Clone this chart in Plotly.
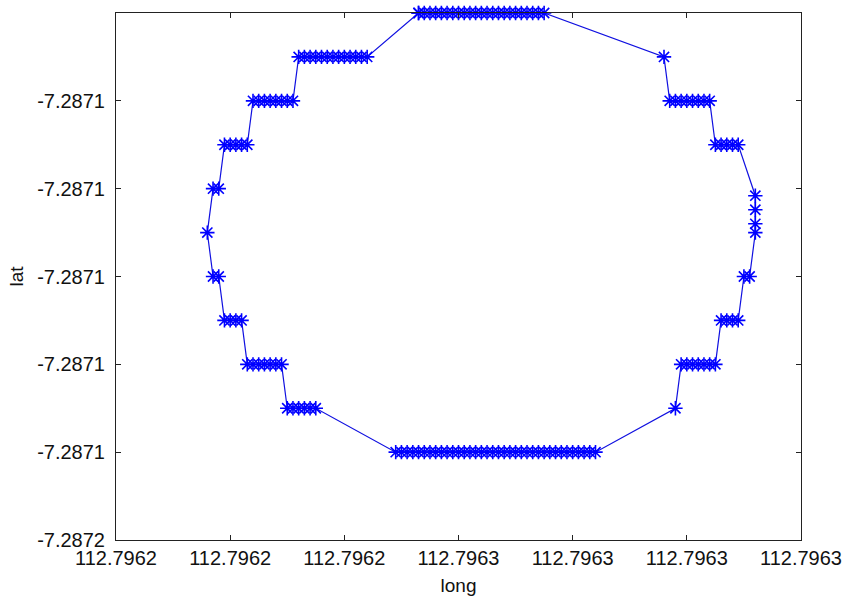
import plotly.graph_objects as go

# Path segments (each a run of GPS fixes at one latitude), in drawing order
seg_lat = [
    [-7.28709] * 23,
    [-7.287095],
    [-7.2871] * 8,
    [-7.287105] * 5,
    [-7.2871108, -7.2871124, -7.287114, -7.287115],
    [-7.28712] * 2,
    [-7.287125] * 4,
    [-7.28713] * 7,
    [-7.287135],
    [-7.28714] * 36,
    [-7.287135] * 6,
    [-7.28713] * 7,
    [-7.287125] * 4,
    [-7.28712] * 2,
    [-7.287115],
    [-7.28711] * 2,
    [-7.287105] * 5,
    [-7.2871] * 8,
    [-7.287095] * 13,
    [-7.28709],
]
seg_long = [
    [112.7962465, 112.796247, 112.7962475, 112.796248, 112.7962485, 112.796249,
     112.7962495, 112.79625, 112.7962505, 112.796251, 112.7962515, 112.796252,
     112.7962525, 112.796253, 112.7962535, 112.796254, 112.7962545, 112.796255,
     112.7962555, 112.796256, 112.7962565, 112.796257, 112.7962575],
    [112.796268],
    [112.7962685, 112.796269, 112.7962695, 112.79627, 112.7962705, 112.796271,
     112.7962715, 112.796272],
    [112.7962725, 112.796273, 112.7962735, 112.796274, 112.7962745],
    [112.796276, 112.796276, 112.796276, 112.796276],
    [112.7962755, 112.796275],
    [112.7962745, 112.796274, 112.7962735, 112.796273],
    [112.7962725, 112.796272, 112.7962715, 112.796271, 112.7962705, 112.79627,
     112.7962695],
    [112.796269],
    [112.796262, 112.7962615, 112.796261, 112.7962605, 112.79626, 112.7962595,
     112.796259, 112.7962585, 112.796258, 112.7962575, 112.796257, 112.7962565,
     112.796256, 112.7962555, 112.796255, 112.7962545, 112.796254, 112.7962535,
     112.796253, 112.7962525, 112.796252, 112.7962515, 112.796251, 112.7962505,
     112.79625, 112.7962495, 112.796249, 112.7962485, 112.796248, 112.7962475,
     112.796247, 112.7962465, 112.796246, 112.7962455, 112.796245, 112.7962445],
    [112.7962375, 112.796237, 112.7962365, 112.796236, 112.7962355, 112.796235],
    [112.7962345, 112.796234, 112.7962335, 112.796233, 112.7962325, 112.796232,
     112.7962315],
    [112.796231, 112.7962305, 112.79623, 112.7962295],
    [112.796229, 112.7962285],
    [112.796228],
    [112.7962285, 112.796229],
    [112.7962295, 112.79623, 112.7962305, 112.796231, 112.7962315],
    [112.796232, 112.7962325, 112.796233, 112.7962335, 112.796234, 112.7962345,
     112.796235, 112.7962355],
    [112.796236, 112.7962365, 112.796237, 112.7962375, 112.796238, 112.7962385,
     112.796239, 112.7962395, 112.79624, 112.7962405, 112.796241, 112.7962415,
     112.796242],
    [112.7962465],
]

x_tickvals = [112.79622, 112.79623, 112.79624, 112.79625, 112.79626, 112.79627, 112.79628]
x_ticktext = ["112.7962", "112.7962", "112.7962", "112.7963", "112.7963", "112.7963", "112.7963"]
y_tickvals = [-7.28715, -7.28714, -7.28713, -7.28712, -7.28711, -7.2871, -7.28709]
y_ticktext = ["-7.2872", "-7.2871", "-7.2871", "-7.2871", "-7.2871", "-7.2871", ""]

longs = [v for s in seg_long for v in s]
lats = [v for s in seg_lat for v in s]

fig = go.Figure()
fig.add_trace(go.Scatter(
    x=longs, y=lats, mode="lines+markers",
    line=dict(color="#1010e0", width=1.2),
    marker=dict(symbol="asterisk-open", size=12, color="#0000ff",
                line=dict(color="#0000ff", width=1.6)),
    cliponaxis=False, showlegend=False,
))

tfont = dict(family="Liberation Sans, Arial, sans-serif", size=20, color="#111")
lfont = dict(family="Liberation Sans, Arial, sans-serif", size=19, color="#111")
axis_common = dict(
    showline=True, linecolor="#222", linewidth=1, mirror="ticks",
    ticks="inside", ticklen=5, tickcolor="#222", tickwidth=1,
    showgrid=False, zeroline=False, tickfont=tfont, automargin=False,
)
fig.update_xaxes(range=[112.79622, 112.79628], tickmode="array",
                 tickvals=x_tickvals, ticktext=x_ticktext,
                 ticklabelstandoff=0,
                 title=dict(text="long", font=lfont, standoff=10), **axis_common)
fig.update_yaxes(range=[-7.28715, -7.28709], tickmode="array",
                 tickvals=y_tickvals, ticktext=y_ticktext,
                 ticklabelstandoff=6,
                 title=dict(text="lat", font=lfont, standoff=8), **axis_common)
fig.update_layout(
    width=844, height=597,
    margin=dict(l=116, r=43, t=13, b=57),
    paper_bgcolor="white", plot_bgcolor="white",
)
fig.write_html("out.html")
